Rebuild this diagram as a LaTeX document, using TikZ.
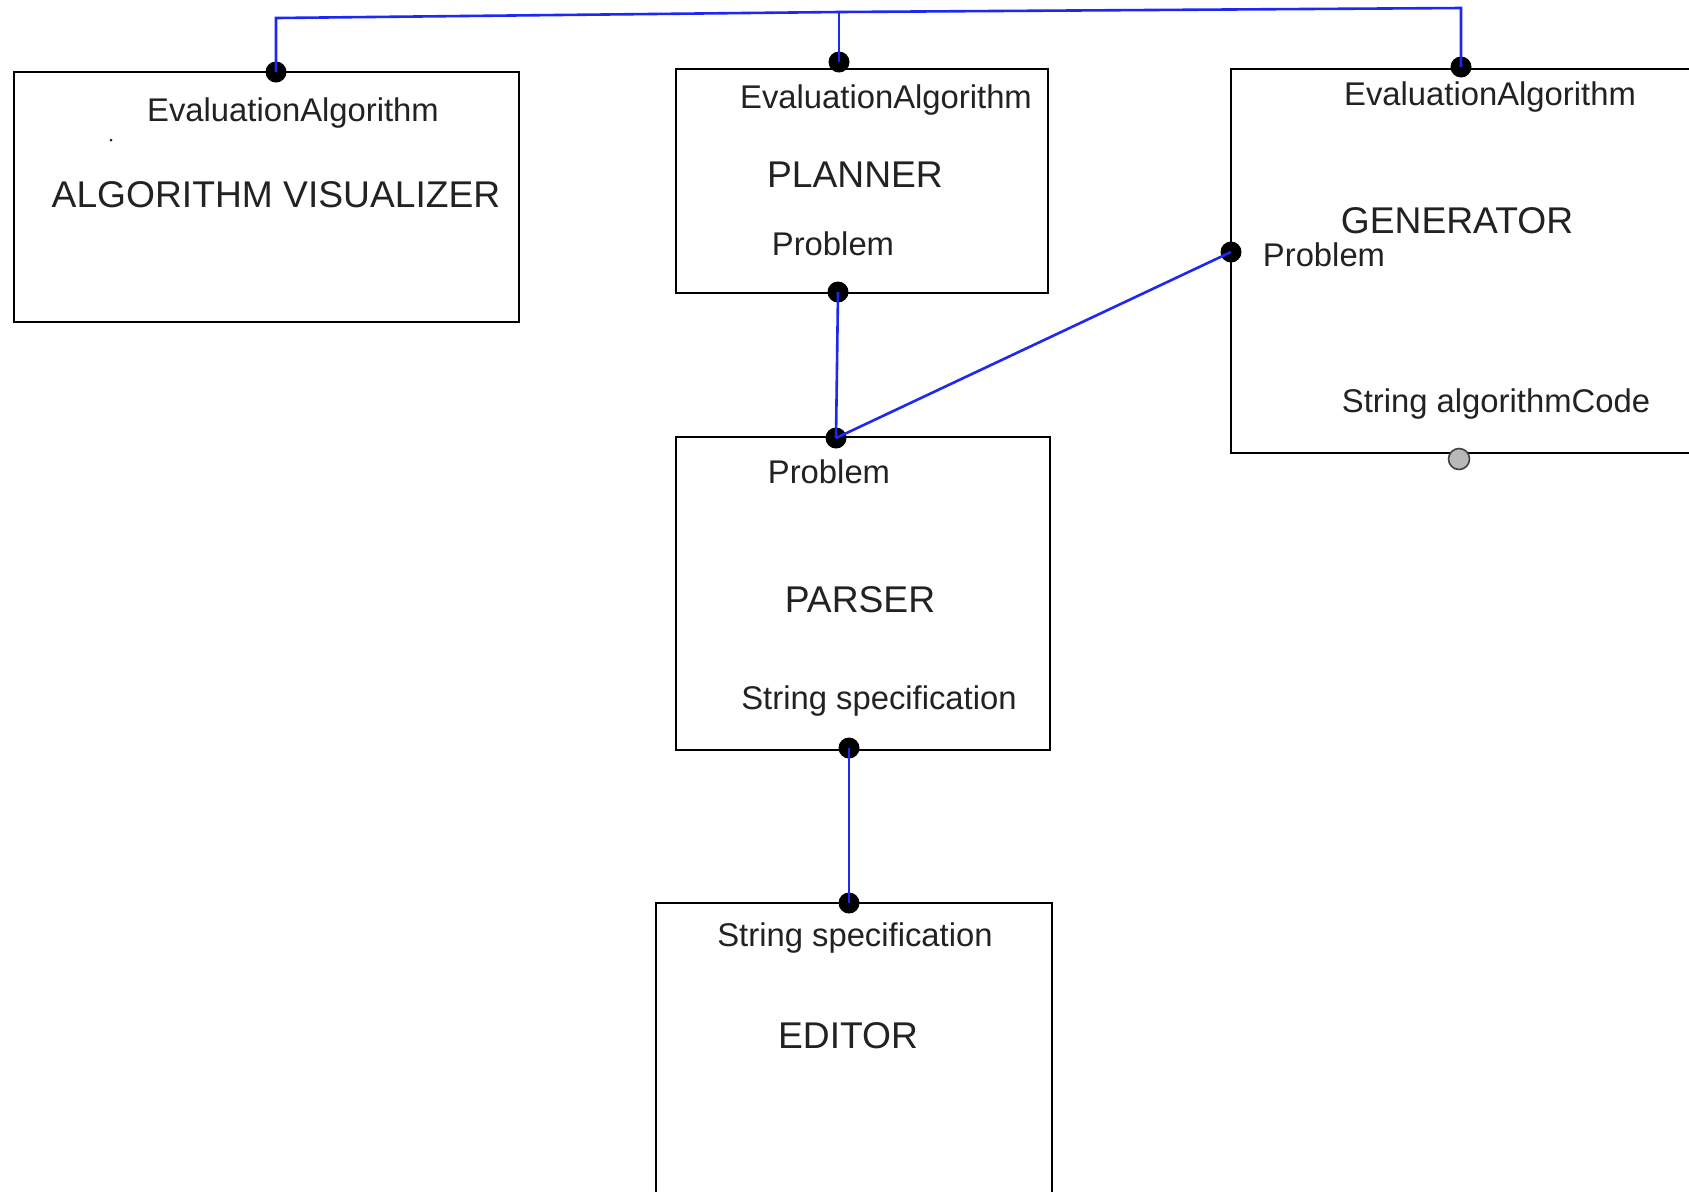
\documentclass[tikz,border=0pt]{standalone}
\usepackage{fontspec}
\setmainfont{Liberation Sans}
\usetikzlibrary{positioning}
\definecolor{wireblue}{RGB}{30,40,240}
\definecolor{inkgray}{RGB}{34,34,34}
\tikzset{
  cbox/.style={draw=black, line width=1.1pt, rectangle, inner sep=0pt},
  pdot/.style={circle, fill=black, inner sep=0pt, minimum size=10.5pt},
  podot/.style={circle, fill=black!28, draw=black!75, line width=0.8pt, inner sep=0pt, minimum size=10.5pt},
  plab/.style={font=\fontsize{16.4}{18}\selectfont, text=inkgray, inner sep=0pt},
  cname/.style={font=\fontsize{18.6}{21}\selectfont, text=inkgray, inner sep=0pt},
  wire/.style={wireblue, line width=1.3pt},
}

\begin{document}
\begin{tikzpicture}[x=0.5pt, y=-0.5pt]
 \clip (0,0) rectangle (1689,1191);
 \fill[white] (0,0) rectangle (1689,1191);
 % component boxes
 \node[cbox, minimum width=252.5pt, minimum height=125pt] (vis) at (266.5,197) {};
 \node[cbox, minimum width=186pt, minimum height=112pt] (pln) at (862,181) {};
 \node[cbox, minimum width=264.5pt, minimum height=192pt] (gen) at (1495.5,261) {};
 \node[cbox, minimum width=187pt, minimum height=156.5pt] (prs) at (863,593.5) {};
 \node[cbox, minimum width=198pt, minimum height=168.5pt] (edt) at (854,1071.5) {};
 % texts
 \node[plab] (visEAt) at (293,113) {EvaluationAlgorithm};
 \node[cname] (visN) at (276,195) {ALGORITHM VISUALIZER};
 \fill[inkgray] (111,140) circle (1.5);
 \node[plab] (plnEAt) at (886,100) {EvaluationAlgorithm};
 \node[cname] (plnN) at (855,175) {PLANNER};
 \node[plab] (plnPt) at (833,244) {Problem};
 \node[plab] (genEAt) at (1490,97) {EvaluationAlgorithm};
 \node[cname] (genN) at (1457,221) {GENERATOR};
 \node[plab] (genPt) at (1324,255) {Problem};
 \node[plab] (genCt) at (1496,404) {String algorithmCode};
 \node[plab] (prsPt) at (829,472) {Problem};
 \node[cname] (prsN) at (860,600) {PARSER};
 \node[plab] (prsSt) at (879,701) {String specification};
 \node[plab] (edtSt) at (855,938) {String specification};
 \node[cname] (edtN) at (848,1036) {EDITOR};
 % ports
 \node[pdot] (visEA) at (276,72) {};
 \node[pdot] (plnEA) at (839,62) {};
 \node[pdot] (plnP) at (838,292) {};
 \node[pdot] (genEA) at (1461,67) {};
 \node[pdot] (genP) at (1231,252) {};
 \node[podot] (genC) at (1459,459) {};
 \node[pdot] (prsP) at (836,438) {};
 \node[pdot] (prsS) at (849,748) {};
 \node[pdot] (edtS) at (849,903) {};
 % links
 \coordinate (busL) at (276,18);
 \coordinate (busM) at (839,12);
 \coordinate (busR) at (1461,8);
 \draw[wire] (visEA.center) -- (busL) -- (busM) -- (busR) -- (genEA.center);
 \draw[wire] (busM) -- (plnEA.center);
 \draw[wire] (plnP.center) -- (prsP.center);
 \draw[wire] (prsP.center) -- (genP.center);
 \draw[wire] (prsS.center) -- (edtS.center);
\end{tikzpicture}
\end{document}
